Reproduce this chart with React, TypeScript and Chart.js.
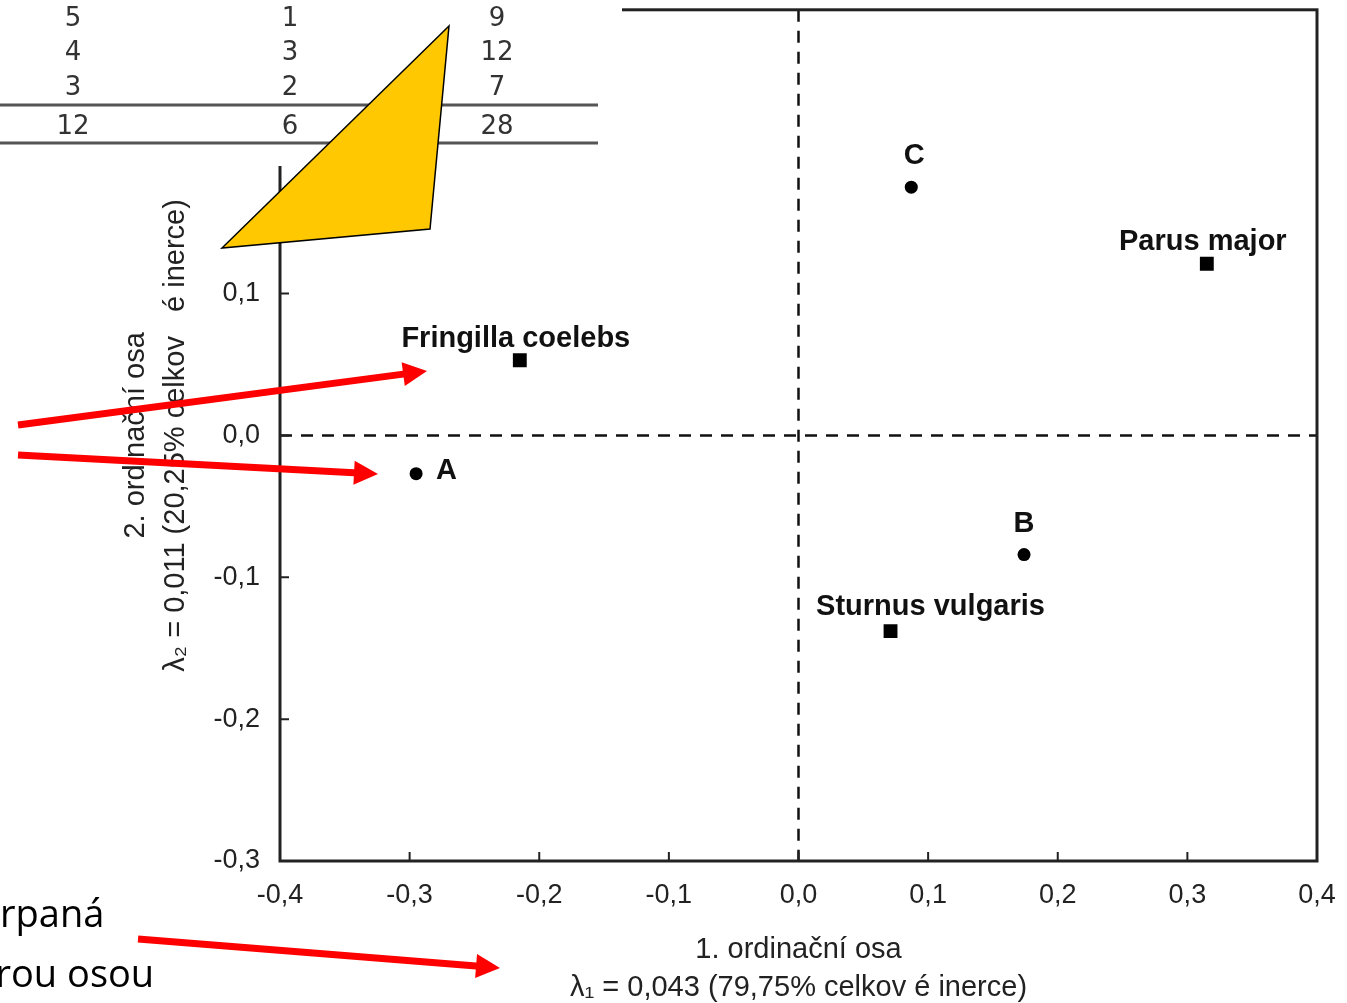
import React, { useEffect, useRef } from 'react';
import { Chart, registerables } from 'chart.js';

Chart.register(...registerables);

// ---- data ----
const xTickValues = [-0.4, -0.3, -0.2, -0.1, 0, 0.1, 0.2, 0.3, 0.4];
const yTickValues = [-0.3, -0.2, -0.1, 0, 0.1, 0.2, 0.3];

const siteNames = ['A', 'B', 'C'];
const siteAxis1 = [-0.295, 0.174, 0.087];
const siteAxis2 = [-0.027, -0.084, 0.175];

const speciesNames = ['Fringilla coelebs', 'Parus major', 'Sturnus vulgaris'];
const speciesAxis1 = [-0.215, 0.315, 0.071];
const speciesAxis2 = [0.053, 0.121, -0.138];

const tableBody = [
  [5, 1, 9],
  [4, 3, 12],
  [3, 2, 7],
];
const tableTotals = [12, 6, 28];

const xTitle = ['1. ordinační osa', 'λ₁ = 0,043 (79,75% celkov é inerce)'];
const yTitle = ['2. ordinační osa', 'λ₂ = 0,011 (20,25% celkov   é inerce)'];
const sideText = ['rpaná', 'rou osou'];

// ---- styling (label placement relative to marker, px) ----
const siteLabelPlacement = [
  { dx: 20, dy: -3, align: 'left' },
  { dx: 0, dy: -31, align: 'center' },
  { dx: 3, dy: -31, align: 'center' },
];
const speciesLabelPlacement = [
  { dx: -4, dy: -21, align: 'center' },
  { dx: -4, dy: -22, align: 'center' },
  { dx: 40, dy: -24, align: 'center' },
];

// target plot-area box in the 1347x1003 picture
const AREA = { left: 280, top: 5, right: 1317, bottom: 861 };

const fmt = (v: number) => {
  const n = Math.abs(v) < 1e-9 ? 0 : v;
  return n.toFixed(1).replace('.', ',');
};

function arrow(ctx: CanvasRenderingContext2D, x1: number, y1: number, x2: number, y2: number) {
  const ang = Math.atan2(y2 - y1, x2 - x1);
  const headLen = 24;
  const headHalf = 12;
  const shaftHalf = 3.5;
  const bx = x2 - Math.cos(ang) * headLen;
  const by = y2 - Math.sin(ang) * headLen;
  const nx = -Math.sin(ang);
  const ny = Math.cos(ang);
  ctx.beginPath();
  ctx.moveTo(x1 + nx * shaftHalf, y1 + ny * shaftHalf);
  ctx.lineTo(bx + nx * shaftHalf, by + ny * shaftHalf);
  ctx.lineTo(bx + nx * headHalf, by + ny * headHalf);
  ctx.lineTo(x2, y2);
  ctx.lineTo(bx - nx * headHalf, by - ny * headHalf);
  ctx.lineTo(bx - nx * shaftHalf, by - ny * shaftHalf);
  ctx.lineTo(x1 - nx * shaftHalf, y1 - ny * shaftHalf);
  ctx.closePath();
  ctx.fillStyle = '#ff0000';
  ctx.fill();
}

const overlayPlugin = {
  id: 'overlay',
  beforeDatasetsDraw(chart: any) {
    const { ctx, chartArea: a, scales } = chart;
    const x = scales.x;
    const y = scales.y;
    ctx.save();
    // dashed zero lines
    ctx.strokeStyle = '#111';
    ctx.lineWidth = 2.5;
    ctx.setLineDash([12, 9]);
    const x0 = x.getPixelForValue(0);
    const y0 = y.getPixelForValue(0);
    ctx.beginPath();
    ctx.moveTo(x0, a.top);
    ctx.lineTo(x0, a.bottom);
    ctx.moveTo(a.left, y0);
    ctx.lineTo(a.right, y0);
    ctx.stroke();
    ctx.setLineDash([]);
    // frame
    ctx.strokeStyle = '#222';
    ctx.lineWidth = 3;
    ctx.strokeRect(a.left, a.top, a.right - a.left, a.bottom - a.top);
    // inward ticks
    ctx.lineWidth = 2;
    ctx.beginPath();
    xTickValues.forEach((v) => {
      const px = x.getPixelForValue(v);
      ctx.moveTo(px, a.bottom);
      ctx.lineTo(px, a.bottom - 9);
    });
    yTickValues.forEach((v) => {
      const py = y.getPixelForValue(v);
      ctx.moveTo(a.left, py);
      ctx.lineTo(a.left + 9, py);
    });
    ctx.stroke();
    ctx.restore();
  },
  afterDatasetsDraw(chart: any) {
    const { ctx } = chart;
    ctx.save();
    ctx.fillStyle = '#111';
    ctx.font = 'bold 29px "Liberation Sans", Arial, sans-serif';
    ctx.textBaseline = 'middle';
    chart.data.datasets.forEach((ds: any, di: number) => {
      const meta = chart.getDatasetMeta(di);
      meta.data.forEach((pt: any, i: number) => {
        const pl = ds.labelPlacement[i];
        ctx.textAlign = pl.align;
        ctx.fillText(ds.names[i], pt.x + pl.dx, pt.y + pl.dy);
      });
    });
    ctx.restore();
  },
  afterDraw(chart: any) {
    const { ctx } = chart;
    ctx.save();
    // table fragment pasted over the top-left corner
    ctx.fillStyle = '#ffffff';
    ctx.fillRect(0, 0, 622, 166);
    ctx.fillStyle = '#333';
    ctx.font = '26px "DejaVu Sans", Verdana, sans-serif';
    ctx.textAlign = 'center';
    ctx.textBaseline = 'middle';
    const colX = [73, 290, 497];
    const rowY = [19, 53, 88];
    tableBody.forEach((row, r) => {
      row.forEach((val, c) => ctx.fillText(String(val), colX[c], rowY[r]));
    });
    tableTotals.forEach((val, c) => ctx.fillText(String(val), colX[c], 127));
    ctx.strokeStyle = '#555';
    ctx.lineWidth = 3;
    ctx.beginPath();
    ctx.moveTo(0, 105);
    ctx.lineTo(598, 105);
    ctx.moveTo(0, 143);
    ctx.lineTo(598, 143);
    ctx.stroke();

    // yellow triangle
    ctx.beginPath();
    ctx.moveTo(449, 26);
    ctx.lineTo(222, 248);
    ctx.lineTo(430, 229);
    ctx.closePath();
    ctx.fillStyle = '#ffc800';
    ctx.fill();
    ctx.strokeStyle = '#000';
    ctx.lineWidth = 1.5;
    ctx.stroke();

    // red arrows
    arrow(ctx, 18, 425, 427, 371);
    arrow(ctx, 18, 455, 378, 474);
    arrow(ctx, 138, 939, 500, 968);

    // slide text fragment
    ctx.fillStyle = '#000';
    ctx.font = '38px "Open Sans", sans-serif';
    ctx.textBaseline = 'alphabetic';
    ctx.textAlign = 'left';
    ctx.fillText(sideText[0], 0, 927);
    const rW = ctx.measureText('r').width;
    ctx.fillText(sideText[1], 11 - rW, 987);
    ctx.restore();
  },
};

export default function App() {
  const ref = useRef<HTMLCanvasElement | null>(null);

  useEffect(() => {
    if (!ref.current) return;
    const options: any = {
      responsive: false,
      animation: false,
      devicePixelRatio: 1,
      layout: { padding: { top: AREA.top, right: 1347 - AREA.right, left: 0, bottom: 0 } },
      plugins: {
        legend: { display: false },
        tooltip: { enabled: false },
      },
      scales: {
        x: {
          type: 'linear',
          min: -0.4,
          max: 0.4,
          afterBuildTicks: (s: any) => {
            s.ticks = xTickValues.map((v) => ({ value: v }));
          },
          afterFit: (s: any) => {
            s.height = 1003 - AREA.bottom;
            s.paddingLeft = 0;
            s.paddingRight = 0;
            s.paddingTop = 0;
            s.paddingBottom = 0;
          },
          grid: { display: false, drawTicks: false },
          border: { display: false },
          ticks: {
            padding: 18,
            color: '#222',
            autoSkip: false,
            maxRotation: 0,
            font: { family: '"Liberation Sans", Arial, sans-serif', size: 27 },
            callback: (v: any) => fmt(Number(v)),
          },
          title: {
            display: true,
            text: xTitle,
            color: '#222',
            font: { family: '"Liberation Sans", Arial, sans-serif', size: 29, lineHeight: '38px' },
            padding: { top: 0, bottom: -4 },
          },
        },
        y: {
          type: 'linear',
          min: -0.3,
          max: 0.3,
          afterBuildTicks: (s: any) => {
            s.ticks = yTickValues.map((v) => ({ value: v }));
          },
          afterFit: (s: any) => {
            s.width = AREA.left;
            s.paddingLeft = 0;
            s.paddingRight = 0;
            s.paddingTop = 0;
            s.paddingBottom = 0;
          },
          grid: { display: false, drawTicks: false },
          border: { display: false },
          ticks: {
            padding: 20,
            color: '#222',
            autoSkip: false,
            font: { family: '"Liberation Sans", Arial, sans-serif', size: 27 },
            callback: (v: any) => fmt(Number(v)),
          },
          title: {
            display: true,
            text: yTitle,
            color: '#222',
            font: { family: '"Liberation Sans", Arial, sans-serif', size: 29, lineHeight: '40px' },
            padding: { top: 116, bottom: 0 },
          },
        },
      },
    };

    const chart = new Chart(ref.current, {
      type: 'scatter',
      data: {
        datasets: [
          {
            label: 'Lokality',
            data: siteAxis1.map((v, i) => ({ x: v, y: siteAxis2[i] })),
            pointStyle: 'circle',
            pointRadius: 6.5,
            backgroundColor: '#000',
            borderColor: '#000',
            borderWidth: 0,
            names: siteNames,
            labelPlacement: siteLabelPlacement,
          } as any,
          {
            label: 'Druhy',
            data: speciesAxis1.map((v, i) => ({ x: v, y: speciesAxis2[i] })),
            pointStyle: 'rect',
            pointRadius: 9.8,
            backgroundColor: '#000',
            borderColor: '#000',
            borderWidth: 0,
            names: speciesNames,
            labelPlacement: speciesLabelPlacement,
          } as any,
        ],
      },
      options,
      plugins: [overlayPlugin as any],
    });

    // nudge the layout padding so the plot area lands exactly on the target box
    for (let k = 0; k < 3; k++) {
      const ca = chart.chartArea;
      const dTop = ca.top - AREA.top;
      const dRight = ca.right - AREA.right;
      const dBottom = ca.bottom - AREA.bottom;
      const dLeft = ca.left - AREA.left;
      if (Math.abs(dTop) < 0.5 && Math.abs(dRight) < 0.5 && Math.abs(dBottom) < 0.5 && Math.abs(dLeft) < 0.5) break;
      const p = (chart.config.options as any).layout.padding;
      (chart.config.options as any).layout.padding = {
        top: p.top - dTop,
        right: p.right + dRight,
        bottom: p.bottom + dBottom,
        left: p.left - dLeft,
      };
      chart.update('none');
    }

    return () => chart.destroy();
  }, []);

  return (
    <div style={{ position: 'absolute', left: 0, top: 0, width: 1347, height: 1003, background: '#fff' }}>
      <canvas ref={ref} width={1347} height={1003} style={{ display: 'block', width: 1347, height: 1003 }} />
    </div>
  );
}
